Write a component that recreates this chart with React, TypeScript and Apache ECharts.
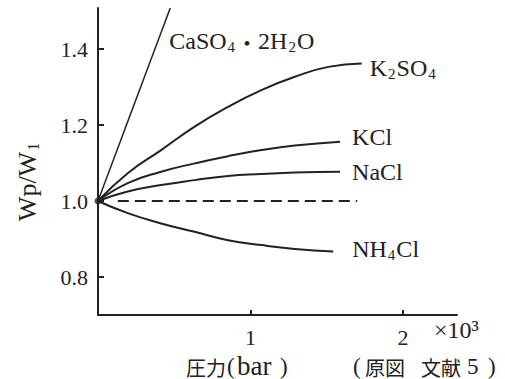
import React, { useEffect, useRef } from "react";
import * as echarts from "echarts";

// pressure in units of 10^3 bar; ratio Wp/W1
const caso4X = [0, 0.474];
const caso4Y = [1.0, 1.508];
const k2so4X = [0, 0.195, 0.414, 0.634, 0.853, 1.072, 1.291, 1.511, 1.73];
const k2so4Y = [1.0, 1.073, 1.134, 1.196, 1.248, 1.292, 1.327, 1.353, 1.362];
const kclX = [0, 0.195, 0.414, 0.634, 0.853, 1.072, 1.291, 1.588];
const kclY = [1.0, 1.047, 1.077, 1.099, 1.118, 1.134, 1.146, 1.156];
const naclX = [0, 0.195, 0.414, 0.634, 0.853, 1.072, 1.291, 1.588];
const naclY = [1.0, 1.025, 1.042, 1.055, 1.066, 1.071, 1.075, 1.077];
const nh4clX = [0, 0.195, 0.414, 0.634, 0.853, 1.072, 1.291, 1.543];
const nh4clY = [1.0, 0.968, 0.941, 0.919, 0.897, 0.884, 0.874, 0.867];
const refX = [0.13, 1.7];
const refY = [1.0, 1.0];
const originX = [0];
const originY = [1.0];

const yTicks = [0.8, 1.0, 1.2, 1.4];
const xTicks = [1, 2];

const SERIF = "Liberation Serif";
const CJK = "Noto Sans CJK JP";
const INK = "#222";

const zip = (xs: number[], ys: number[]) => xs.map((x, i) => [x, ys[i]]);

const rich = {
  a: { fontFamily: SERIF, fontSize: 24, color: INK, lineHeight: 28 },
  s: { fontFamily: SERIF, fontSize: 15, color: INK, lineHeight: 28, padding: [12, 1, 0, 1] },
  d: { fontFamily: CJK, fontSize: 22, color: INK, lineHeight: 28 },
};

const richTick = {
  t: { fontFamily: SERIF, fontSize: 22, color: INK, lineHeight: 26 },
};

const richY = {
  a: { fontFamily: SERIF, fontSize: 26, fill: INK, lineHeight: 30 },
  s: { fontFamily: SERIF, fontSize: 16, fill: INK, lineHeight: 30, padding: [13, 0, 0, 1] },
};

const richG = {
  m: { fontFamily: SERIF, fontSize: 24, fill: INK, lineHeight: 26 },
  p: { fontFamily: SERIF, fontSize: 23, fill: INK, lineHeight: 22 },
  b: { fontFamily: SERIF, fontSize: 27, fill: INK, lineHeight: 22 },
  c: { fontFamily: CJK, fontSize: 20, fill: INK, lineHeight: 22 },
};

const txt = (text: string, x: number, y: number) => ({
  type: "text",
  x,
  y,
  silent: true,
  style: {
    text,
    rich: richG,
    align: "left",
    verticalAlign: "middle",
  },
});

export default function App() {
  const ref = useRef<HTMLDivElement>(null);
  useEffect(() => {
    if (!ref.current) return;
    const chart = echarts.init(ref.current, null, { renderer: "svg" });
    const mk = (name: string, data: number[][], label: string, offset: number[], width = 2) => ({
      type: "line",
      name,
      data,
      smooth: true,
      showSymbol: false,
      silent: true,
      lineStyle: { color: INK, width },
      endLabel: {
        show: true,
        formatter: () => label,
        distance: 0,
        offset,
        rich,
      },
    });
    chart.setOption({
      animation: false,
      backgroundColor: "#fff",
      grid: { left: 98, right: 48, top: 8, bottom: 64 },
      xAxis: {
        type: "value",
        min: 0,
        max: 2.355,
        splitLine: { show: false },
        axisLine: { show: true, lineStyle: { color: INK, width: 2 } },
        axisTick: { show: true, inside: true, length: 5, customValues: xTicks, lineStyle: { color: INK, width: 2 } },
        axisLabel: {
          customValues: xTicks,
          formatter: (v: number) => "{t|" + String(Math.round(v)) + "}",
          rich: richTick,
          margin: 9,
        },
      },
      yAxis: {
        type: "value",
        min: 0.7,
        max: 1.508,
        splitLine: { show: false },
        axisLine: { show: true, lineStyle: { color: INK, width: 2 } },
        axisTick: { show: true, inside: true, length: 6, customValues: yTicks, lineStyle: { color: INK, width: 2 } },
        axisLabel: {
          customValues: yTicks,
          formatter: (v: number) => "{t|" + v.toFixed(1) + "}",
          rich: richTick,
          margin: 10,
        },
      },
      series: [
        mk("CaSO4", zip(caso4X, caso4Y), "{a|CaSO}{s|4}{d|・}{a|2H}{s|2}{a|O}", [-1, 33], 1.5),
        mk("K2SO4", zip(k2so4X, k2so4Y), "{a|K}{s|2}{a|SO}{s|4}", [8, 5]),
        mk("KCl", zip(kclX, kclY), "{a|KCl}", [12, -5]),
        mk("NaCl", zip(naclX, naclY), "{a|NaCl}", [12, 0]),
        mk("NH4Cl", zip(nh4clX, nh4clY), "{a|NH}{s|4}{a|Cl}", [19, -3]),
        {
          type: "line",
          data: zip(refX, refY),
          showSymbol: false,
          silent: true,
          lineStyle: { color: INK, width: 2, type: [11, 6] },
        },
        {
          type: "scatter",
          data: zip(originX, originY),
          symbolSize: 7,
          clip: false,
          silent: true,
          itemStyle: { color: INK },
        },
      ],
      graphic: [
        {
          type: "text",
          x: 27,
          y: 182,
          rotation: Math.PI / 2,
          silent: true,
          style: {
            text: "{a|Wp/W}{s|1}",
            rich: richY,
            align: "center",
            verticalAlign: "middle",
          },
        },
        txt("{m|×10³}", 434, 330),
        txt("{c|圧力}", 186, 367),
        txt("{p|(}", 227, 366),
        txt("{b|bar}", 237, 366),
        txt("{p|)}", 280, 366),
        txt("{p|(}", 353, 366),
        txt("{c|原図}", 365, 367),
        txt("{c|文献}", 421, 367),
        txt("{p|5}", 467, 366),
        txt("{p|)}", 488, 366),
      ],
    });
    return () => chart.dispose();
  }, []);
  return (
    <div
      ref={ref}
      style={{ position: "fixed", left: 0, top: 0, width: 505, height: 379, background: "#fff" }}
    />
  );
}
